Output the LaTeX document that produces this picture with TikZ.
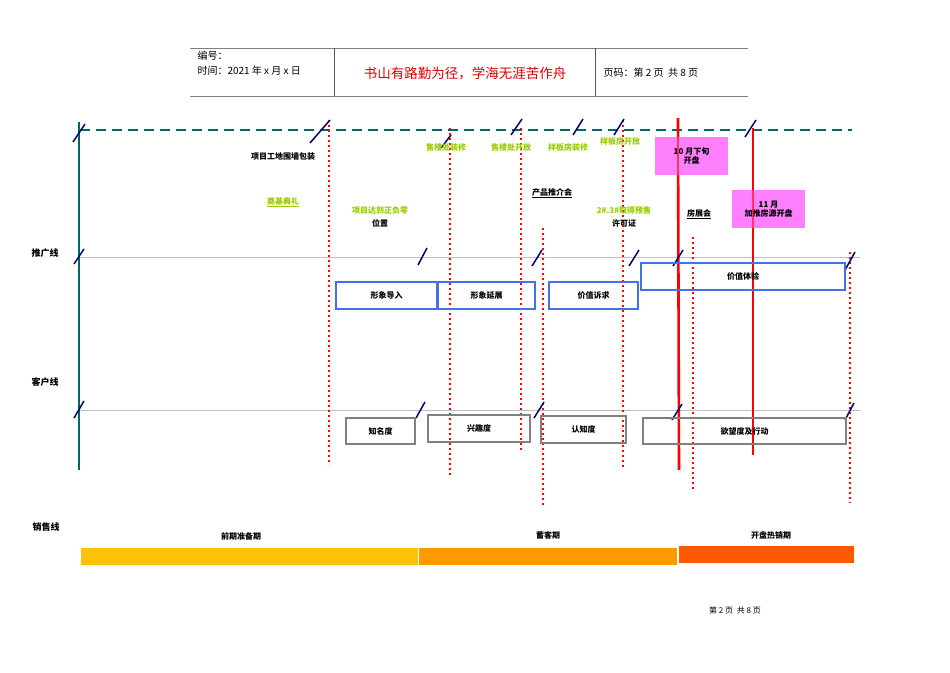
\documentclass[tikz,border=0pt]{standalone}
\usepackage{fontspec}
\setmainfont{Noto Sans CJK SC}
\newfontfamily\cjk{Noto Sans CJK SC}
\definecolor{ygreen}{HTML}{99CC00}
\definecolor{pinkb}{HTML}{FF80FF}
\definecolor{bblue}{HTML}{4472E0}
\begin{document}
\begin{tikzpicture}[x=1pt,y=-1pt,
  lbl/.style={font=\cjk\fontsize{8}{9}\selectfont\bfseries},
  grn/.style={lbl,text=ygreen},
  reddot/.style={red,line width=2.2pt,dash pattern=on 2.2pt off 2.8pt},
  redsolid/.style={red,line width=2.6pt},
  slash/.style={blue!40!black,line width=1.5pt},
  bbox/.style={draw=bblue,line width=1.6pt},
  gbox/.style={draw=gray,line width=1.6pt},
  pbox/.style={fill=pinkb,draw=none}]
\useasboundingbox (0,0) rectangle (950,672);
% header
\draw[gray,line width=0.8pt] (190,48) -- (748,48) (190,96) -- (748,96);
\draw[gray!70!black,line width=0.6pt] (334,48) -- (334,96) (595,48) -- (595,96);
\node[anchor=west,font=\cjk\fontsize{10}{11}\selectfont] (h1) at (194,56) {编号：};
\node[anchor=west,font=\cjk\fontsize{10}{11}\selectfont] (h2) at (194,71) {时间：2021 年 x 月 x 日};
\node[font=\cjk\fontsize{13.5}{14}\selectfont,text=red!85!black] (h3) at (465,73) {书山有路勤为径，学海无涯苦作舟};
\node[anchor=west,font=\cjk\fontsize{10}{11}\selectfont] (h4) at (600,73) {页码：第 2 页\ \ 共 8 页};
\node[font=\cjk\fontsize{8}{9}\selectfont] (ft) at (735,610) {第 2 页\ \ 共 8 页};
% axes
\draw[teal!80!black,line width=2.5pt,dash pattern=on 10pt off 6pt] (80,130) -- (852,130);
\draw[teal!80!black,line width=2.5pt] (79,122) -- (79,470);
\draw[gray!50,line width=0.8pt] (80,257) -- (860,257) (80,410) -- (860,410);
% red lines
\draw[reddot] (329,120) -- (329,465);
\draw[reddot] (450,128) -- (450,475);
\draw[reddot] (521,128) -- (521,453);
\draw[reddot] (543,228) -- (543,505);
\draw[reddot] (623,120) -- (623,468);
\draw[reddot] (693,237) -- (693,490);
\draw[reddot] (850,252) -- (850,503);
\draw[redsolid] (678,118) -- (679,470);
\draw[redsolid] (753,128) -- (753,455);
% pink boxes
\node[pbox,minimum width=73,minimum height=38,lbl,align=center] (p1) at (691.5,156) {10 月下旬\\开盘};
\node[pbox,minimum width=73,minimum height=38,lbl,align=center] (p2) at (768.5,209) {11 月\\加推房源开盘};
\draw[redsolid,opacity=0.6] (678,137) -- (678,175);
\draw[redsolid,opacity=0.6] (753,190) -- (753,228);
% slashes
\foreach \a/\b/\c/\d in {73/142/85/124, 310/143/330/120, 441/148/451/135, 511/135/522/119, 573/135/583/119, 614/135/624/119, 745/137/756/120,
 74/264/84/249, 418/265/427/248, 532/266/542/250, 629/266/639/250, 673/266/683/250, 845/270/855/252,
 74/418/84/401, 416/418/425/402, 534/418/544/402, 672/420/682/404, 845/420/854/403}
  \draw[slash] (\a,\b) -- (\c,\d);
% boxes
\node[bbox,lbl,minimum width=101,minimum height=27] (b1) at (386.5,295.5) {形象导入};
\node[bbox,lbl,minimum width=97,minimum height=27] (b2) at (486.5,295.5) {形象延展};
\node[bbox,lbl,minimum width=89,minimum height=27] (b3) at (593.5,295.5) {价值诉求};
\node[bbox,lbl,minimum width=204,minimum height=27] (b4) at (743,276.5) {价值体验};
\node[gbox,lbl,minimum width=69,minimum height=26] (g1) at (380.5,431) {知名度};
\node[gbox,lbl,minimum width=102,minimum height=27] (g2) at (479,428.5) {兴趣度};
\node[gbox,lbl,minimum width=85,minimum height=27] (g3) at (583.5,429.5) {认知度};
\node[gbox,lbl,minimum width=203,minimum height=26] (g4) at (744.5,431) {欲望度及行动};
% side labels
\node[font=\cjk\fontsize{9}{10}\selectfont\bfseries] (s1) at (45,253) {推广线};
\node[font=\cjk\fontsize{9}{10}\selectfont\bfseries] (s2) at (45,382) {客户线};
\node[font=\cjk\fontsize{9}{10}\selectfont\bfseries] (s3) at (46,527) {销售线};
% bars
\fill[yellow!50!orange!90!yellow] (81,548) rectangle (418,565);
\fill[orange!80!yellow] (419,548) rectangle (677,565);
\fill[orange!70!red] (679,546) rectangle (854,563);
\node[lbl] (l1) at (241,536) {前期准备期};
\node[lbl] (l2) at (548,535) {蓄客期};
\node[lbl] (l3) at (771,535) {开盘热销期};
% event texts
\node[lbl] (e1) at (283,156) {项目工地围墙包装};
\node[grn] (e2) at (283,202) {\underline{奠基典礼}};
\node[grn] (e3) at (380,211) {项目达到正负零};
\node[lbl] (e4) at (380,223) {位置};
\node[grn] (e5) at (446,147) {售楼处装修};
\node[grn] (e6) at (511,147) {售楼处开放};
\node[grn] (e7) at (568,147) {样板房装修};
\node[grn] (e8) at (620,141) {样板房开放};
\node[lbl] (e9) at (552,193) {\underline{产品推介会}};
\node[grn] (e10) at (624,210) {2\#.3\#取得预售};
\node[lbl] (e11) at (624,223) {许可证};
\node[lbl] (e12) at (699,214) {\underline{房展会}};
\end{tikzpicture}
\end{document}
